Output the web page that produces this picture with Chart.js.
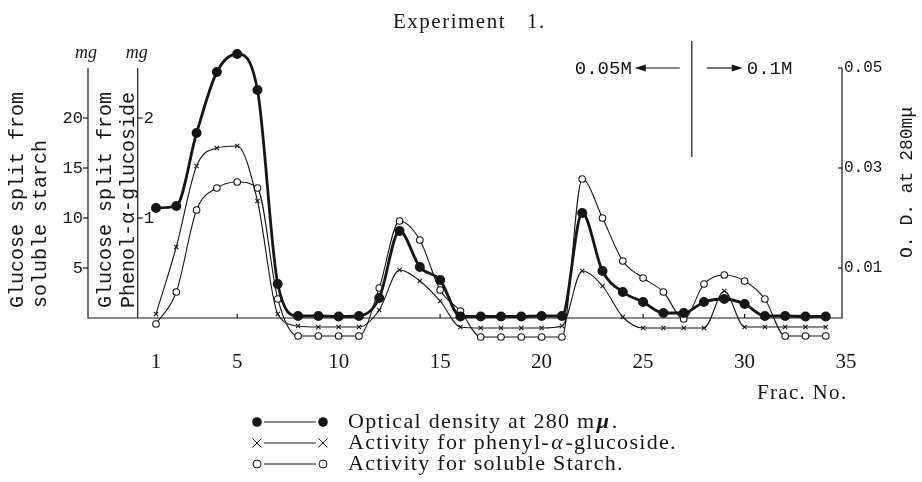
<!DOCTYPE html>
<html>
<head>
<meta charset="utf-8">
<title>Experiment 1.</title>
<script src="https://cdn.jsdelivr.net/npm/chart.js@4.4.1/dist/chart.umd.min.js"></script>
<style>
  html, body { margin: 0; padding: 0; background: #fff; }
  canvas { display: block; }
</style>
</head>
<body>
<canvas id="chart" width="922" height="482"></canvas>
<script>
// fraction numbers and the three measured series
const fractions = [1, 2, 3, 4, 5, 6, 7, 8, 9, 10, 11, 12, 13, 14, 15, 16, 17,
  18, 19, 20, 21, 22, 23, 24, 25, 26, 27, 28, 29, 30, 31, 32, 33, 34];

// O.D. at 280 mμ
const opticalDensity = [0.022, 0.0224, 0.037, 0.0492, 0.0528, 0.0456, 0.0068,
  0.0004, 0.0004, 0.0003, 0.0004, 0.004, 0.0174, 0.0102, 0.0076, 0.0003, 0.0003,
  0.0003, 0.0003, 0.0004, 0.0004, 0.021, 0.0094, 0.0052, 0.0032, 0.001, 0.001,
  0.0032, 0.0038, 0.0028, 0.0004, 0.0004, 0.0003, 0.0003];

// mg glucose split from phenyl-α-glucoside
const phenylActivity = [0.04, 0.71, 1.52, 1.70, 1.72, 1.17, 0.04, -0.08, -0.09,
  -0.09, -0.09, 0.08, 0.48, 0.37, 0.17, -0.09, -0.1, -0.1, -0.1, -0.1, -0.08,
  0.47, 0.32, 0.01, -0.1, -0.1, -0.1, -0.1, 0.27, -0.09, -0.09, -0.09, -0.09, -0.09];

// mg glucose split from soluble starch
const starchActivity = [-0.6, 2.6, 10.8, 13.0, 13.6, 13.0, 1.9, -1.8, -1.8,
  -1.8, -1.8, 3.0, 9.7, 7.8, 2.8, 0.7, -1.9, -1.9, -1.9, -1.9, -1.9, 13.9, 10.0,
  5.7, 4.0, 2.6, -0.1, 3.4, 4.3, 3.7, 1.9, -1.8, -1.8, -1.8];

const fracTicks = [1, 5, 10, 15, 20, 25, 30, 35];
const starchTicks = [5, 10, 15, 20];
const phenylTicks = [1, 2];
const odTicks = [0.01, 0.03, 0.05];

const phenylAxisAt = 0.1;    // fraction where the second mg axis stands
const bufferChangeAt = 27.4; // 0.05M -> 0.1M
const starchTop = 25;        // top of the drawn axes, in mg

const ink = "#161616";
const mono = "'Liberation Mono', 'DejaVu Sans Mono', monospace";
const serif = "'Liberation Serif', 'DejaVu Serif', serif";

function points(values) {
  return fractions.map((f, i) => ({ x: f, y: values[i] }));
}

function rotatedText(ctx, text, x, y) {
  ctx.save();
  ctx.translate(x, y);
  ctx.rotate(-Math.PI / 2);
  ctx.textAlign = "left";
  ctx.textBaseline = "middle";
  ctx.fillText(text, 0, 0);
  ctx.restore();
}

function arrow(ctx, x1, x2, y) {
  const dir = x2 > x1 ? 1 : -1;
  ctx.beginPath();
  ctx.moveTo(x1, y);
  ctx.lineTo(x2 - dir * 8, y);
  ctx.stroke();
  ctx.beginPath();
  ctx.moveTo(x2, y);
  ctx.lineTo(x2 - dir * 11, y - 3.5);
  ctx.lineTo(x2 - dir * 11, y + 3.5);
  ctx.closePath();
  ctx.fill();
}

// draw a run of pieces [text, font] one after another
function runs(ctx, pieces, x, y) {
  pieces.forEach(([text, font]) => {
    ctx.font = font;
    ctx.fillText(text, x, y);
    x += ctx.measureText(text).width + (parseFloat(ctx.letterSpacing) || 0);
  });
}

const paperAxes = {
  id: "paperAxes",
  beforeDatasetsDraw(chart) {
    const { ctx, chartArea: a, scales } = chart;
    const { x, y, yP, yOD } = scales;
    const y0 = y.getPixelForValue(0);
    const yTop = y.getPixelForValue(starchTop);
    const xP = x.getPixelForValue(phenylAxisAt);

    ctx.save();
    ctx.strokeStyle = ink;
    ctx.fillStyle = ink;
    ctx.lineWidth = 1.2;

    // axis lines
    ctx.beginPath();
    ctx.moveTo(a.left, yTop);
    ctx.lineTo(a.left, y0);
    ctx.lineTo(a.right, y0);
    ctx.lineTo(a.right, yTop);
    ctx.moveTo(xP, yTop);
    ctx.lineTo(xP, y0);
    ctx.stroke();

    // x ticks
    ctx.font = "21px " + serif;
    ctx.textAlign = "center";
    ctx.textBaseline = "middle";
    fracTicks.forEach(v => {
      const px = x.getPixelForValue(v);
      if (v % 5 === 0 && v < 35) {
        ctx.beginPath();
        ctx.moveTo(px, y0);
        ctx.lineTo(px, y0 - 4);
        ctx.stroke();
      }
      ctx.fillText(String(v), px, 362);
    });
    ctx.textAlign = "left";
    ctx.letterSpacing = "1.3px";
    ctx.fillText("Frac. No.", 757, 393);
    ctx.letterSpacing = "0px";

    // soluble starch axis
    ctx.font = "17px " + mono;
    ctx.textAlign = "right";
    starchTicks.forEach(v => {
      const py = y.getPixelForValue(v);
      ctx.beginPath();
      ctx.moveTo(a.left - 5, py);
      ctx.lineTo(a.left, py);
      ctx.stroke();
      ctx.fillText(String(v), a.left - 5, py);
    });

    // phenyl-α-glucoside axis
    ctx.textAlign = "left";
    phenylTicks.forEach(v => {
      const py = yP.getPixelForValue(v);
      ctx.beginPath();
      ctx.moveTo(xP, py);
      ctx.lineTo(xP + 5, py);
      ctx.stroke();
      ctx.fillText(String(v), xP + 6, py);
    });

    // O.D. axis
    ctx.font = "16px " + mono;
    odTicks.forEach(v => {
      const py = yOD.getPixelForValue(v);
      ctx.beginPath();
      ctx.moveTo(a.right - 4, py);
      ctx.lineTo(a.right, py);
      ctx.stroke();
      ctx.fillText(v.toFixed(2), a.right + 2, py);
    });

    // mg units
    ctx.font = "italic 18px " + serif;
    ctx.textAlign = "center";
    ctx.fillText("mg", a.left - 2, 53);
    ctx.fillText("mg", xP - 1, 53);

    // axis titles
    ctx.font = "20px " + mono;
    rotatedText(ctx, "Glucose split from", 18, 308);
    rotatedText(ctx, "soluble starch", 41, 308);
    rotatedText(ctx, "Glucose split from", 106, 308);
    rotatedText(ctx, "Phenol-α-glucoside", 129, 308);
    ctx.font = "18px " + mono;
    rotatedText(ctx, "O. D. at 280mμ", 907, 258);

    // buffer change
    const xb = x.getPixelForValue(bufferChangeAt);
    ctx.beginPath();
    ctx.moveTo(xb, 41);
    ctx.lineTo(xb, 157);
    ctx.stroke();
    ctx.font = "19px " + mono;
    ctx.textAlign = "right";
    ctx.fillText("0.05M", xb - 60, 69);
    arrow(ctx, xb - 12, xb - 57, 68);
    ctx.textAlign = "left";
    arrow(ctx, xb + 15, xb + 51, 68);
    ctx.fillText("0.1M", xb + 55, 69);

    // title
    ctx.font = "21px " + serif;
    ctx.textAlign = "left";
    ctx.letterSpacing = "1.5px";
    ctx.fillText("Experiment", 393, 22);
    ctx.fillText("1.", 527, 22);

    // key
    const rows = [422, 443, 464];
    const mx1 = 257, mx2 = 323, tx = 348;
    ctx.lineWidth = 1;
    rows.forEach(ry => {
      ctx.beginPath();
      ctx.moveTo(mx1 + 7, ry);
      ctx.lineTo(mx2 - 7, ry);
      ctx.stroke();
    });
    [mx1, mx2].forEach(mx => {
      ctx.beginPath();
      ctx.arc(mx, rows[0], 4.8, 0, Math.PI * 2);
      ctx.fill();
      ctx.beginPath();
      ctx.moveTo(mx - 4.5, rows[1] - 4.5);
      ctx.lineTo(mx + 4.5, rows[1] + 4.5);
      ctx.moveTo(mx + 4.5, rows[1] - 4.5);
      ctx.lineTo(mx - 4.5, rows[1] + 4.5);
      ctx.stroke();
      ctx.beginPath();
      ctx.arc(mx, rows[2], 4, 0, Math.PI * 2);
      ctx.stroke();
    });
    ctx.letterSpacing = "1.3px";
    const plain = "22px " + serif;
    runs(ctx, [["Optical density at 280 m", plain],
      ["μ", "bold italic 22px " + serif], [".", plain]], tx, rows[0]);
    runs(ctx, [["Activity for phenyl-", plain],
      ["α", "italic 22px " + serif], ["-glucoside.", plain]], tx, rows[1]);
    runs(ctx, [["Activity for soluble Starch.", plain]], tx, rows[2]);

    ctx.restore();
  }
};

new Chart(document.getElementById("chart"), {
  type: "line",
  data: {
    datasets: [
      {
        label: "Optical density at 280 mμ.",
        data: points(opticalDensity),
        yAxisID: "yOD",
        borderColor: ink,
        borderWidth: 2.8,
        pointRadius: 3.6,
        pointBackgroundColor: ink,
        pointBorderColor: ink,
        cubicInterpolationMode: "monotone",
        clip: false
      },
      {
        label: "Activity for phenyl-α-glucoside.",
        data: points(phenylActivity),
        yAxisID: "yP",
        borderColor: ink,
        borderWidth: 1.1,
        pointStyle: "crossRot",
        pointRadius: 3,
        pointBorderWidth: 1.1,
        pointBorderColor: ink,
        cubicInterpolationMode: "monotone",
        clip: false
      },
      {
        label: "Activity for soluble Starch.",
        data: points(starchActivity),
        yAxisID: "y",
        borderColor: ink,
        borderWidth: 1.1,
        pointRadius: 3.3,
        pointBorderWidth: 1.1,
        pointBackgroundColor: "#fff",
        pointBorderColor: ink,
        cubicInterpolationMode: "monotone",
        clip: false
      }
    ]
  },
  options: {
    responsive: false,
    animation: false,
    layout: { padding: { left: 88, right: 80, top: 48, bottom: 134 } },
    plugins: { legend: { display: false }, tooltip: { enabled: false } },
    scales: {
      x: { type: "linear", min: -2.35, max: 34.8, display: false },
      y: { min: -3, max: 27, display: false },
      yP: { min: -0.3, max: 2.7, display: false },
      yOD: { min: -0.006, max: 0.054, display: false }
    }
  },
  plugins: [paperAxes]
});
</script>
</body>
</html>
